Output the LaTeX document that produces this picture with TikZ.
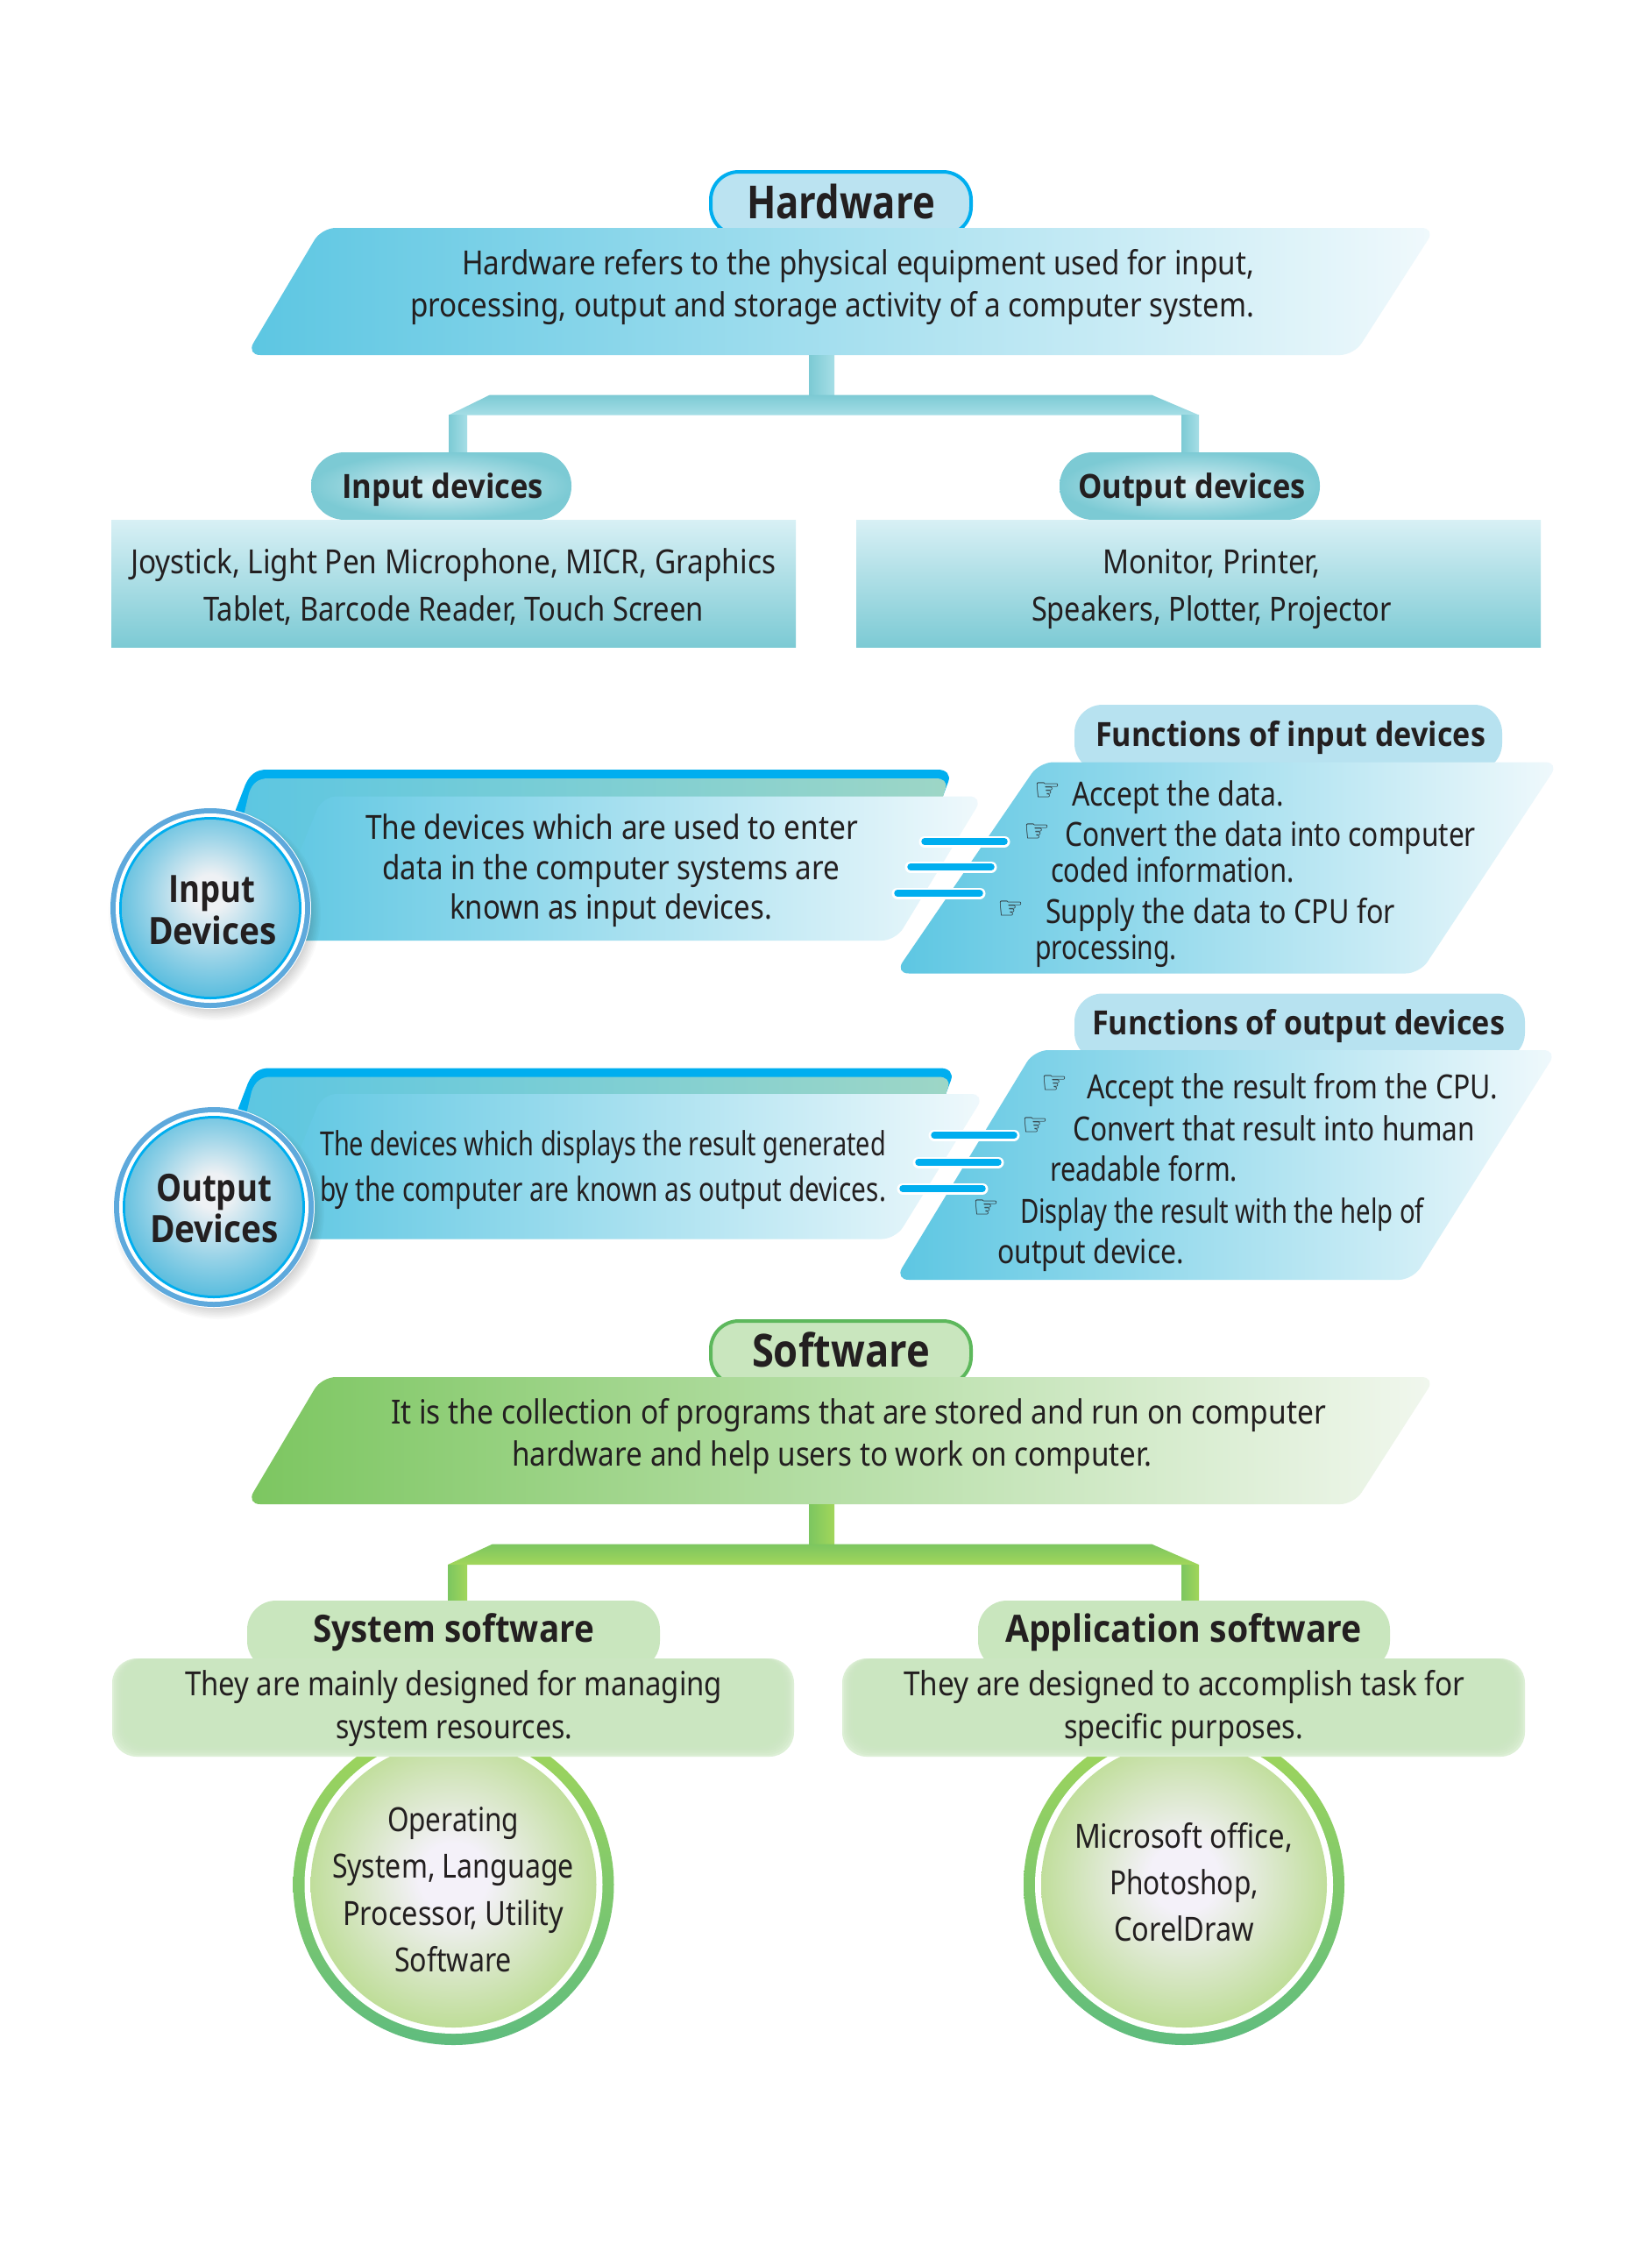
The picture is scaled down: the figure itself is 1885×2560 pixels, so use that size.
\documentclass[tikz,border=0pt]{standalone}
\usepackage{fontspec}
\usepackage{graphicx}
\setmainfont{Noto Sans}
\newfontfamily\handfont{DejaVu Sans}
\newfontfamily\headfont{Open Sans}
\definecolor{ink}{HTML}{231F20}
\definecolor{hblue}{HTML}{00AEEF}
\definecolor{paraL}{HTML}{5CC6E2}
\definecolor{paraR}{HTML}{F0F9FC}
\definecolor{gparaL}{HTML}{7CC660}
\definecolor{gparaR}{HTML}{F1F7EE}
\definecolor{tealD}{HTML}{7CCAD4}
\definecolor{tealM}{HTML}{A6DEE6}
\definecolor{tealL}{HTML}{D8F0F5}
\definecolor{tealG}{HTML}{9DD6C6}
\definecolor{pillH}{HTML}{BBE3F1}
\definecolor{pillS}{HTML}{C9E6BE}
\definecolor{gborder}{HTML}{5DB85C}
\definecolor{boxG}{HTML}{CBE6C1}
\definecolor{boxGe}{HTML}{DCEFD5}
\definecolor{fn}{HTML}{B7E2F0}
\definecolor{ringb}{HTML}{5EA9DC}
\definecolor{orbC}{HTML}{EEF1F4}
\definecolor{orbE}{HTML}{4CB8DC}
\definecolor{grnT}{HTML}{A2D65A}
\definecolor{grnB}{HTML}{5FBC7E}
\definecolor{sphE}{HTML}{B3D983}
\definecolor{sphC}{HTML}{F4F1F9}
\pgfdeclareradialshading{blueorb}{\pgfpoint{0bp}{5bp}}{color(0bp)=(orbC); color(5bp)=(orbC); color(18bp)=(orbE!55!orbC); color(27bp)=(orbE!90!orbC); color(35bp)=(orbE); color(50bp)=(orbE)}
\pgfdeclareradialshading{greenorbsh}{\pgfpoint{0bp}{1.5bp}}{color(0bp)=(sphC); color(6bp)=(sphC); color(18bp)=(sphE!50!sphC); color(27bp)=(sphE!88!sphC); color(35bp)=(sphE); color(50bp)=(sphE)}
\tikzset{
  linetext/.style={anchor=base west,inner sep=0pt,outer sep=0pt,text=ink},
  body/.style={linetext,font=\fontsize{38}{46}\selectfont},
  head/.style={linetext,font=\headfont\fontsize{38}{46}\selectfont\bfseries},
  headb/.style={linetext,font=\headfont\fontsize{43}{50}\selectfont\bfseries},
  title/.style={linetext,font=\headfont\fontsize{52}{60}\selectfont\bfseries},
  handnode/.style={linetext,font=\handfont\fontsize{36}{40}\selectfont},
  shapeR/.style={rounded corners=16pt},
  hpara/.style={shapeR,left color=paraL,right color=paraR},
  gpara/.style={shapeR,left color=gparaL,right color=gparaR},
  speedw/.style={white,line width=13pt,line cap=round},
  speedb/.style={hblue,line width=7.5pt,line cap=round},
}
\newcommand{\fl}[6]{\node[#5] (#1) at (#2,#3) {\resizebox{#4pt}{\height}{#6}};}
\newcommand{\hand}[3]{\node[handnode] (#1) at (#2,#3) {\resizebox{30pt}{\height}{☞}};}
\newcommand{\speed}[4]{\coordinate (#1a) at (#2+4,#4);\coordinate (#1b) at (#3-4,#4);
  \draw[speedw] (#1a) -- (#1b);\draw[speedb] (#1a) -- (#1b);}
\newcommand{\orb}[3]{%
  \foreach \s in {0,...,8}{\fill[black,opacity=.02] (#1+5,#2+7) circle ({#3+7-\s*1.6});}
  \fill[white] (#1,#2) circle (#3+1);
  \fill[ringb] (#1,#2) circle (#3);
  \fill[white] (#1,#2) circle (#3-6);
  \fill[hblue] (#1,#2) circle (#3-10);
  \shade[shading=blueorb] (#1,#2) circle (#3-13);}
\newcommand{\greenball}[2]{%
  \shade[top color=grnT,bottom color=grnB] (#1,#2) circle (183);
  \fill[white] (#1,#2) circle (170);
  \shade[shading=greenorbsh] (#1,#2) circle (163);}
\newcommand{\softbox}[2]{%
  \fill[boxGe,rounded corners=28pt] (#1,1892) rectangle (#2,2004);
  \foreach \i in {1,...,6}{\fill[boxG,opacity=.35,rounded corners=28pt] (#1+\i*2,1892) rectangle (#2-\i*2,2004-\i*2);}}
\newcommand{\banner}[2]{%
  % #1 top y of the strip, #2 horizontal shift
  \begin{scope}[shift={(#2,#1-878)}]
  \fill[hblue] (255,960) -- (280,895) .. controls (285,884) and (292,878) .. (304,878)
     -- (1070,878) .. controls (1080,878) and (1085,884) .. (1082,892) -- (1076,908) -- (300,960) -- cycle;
  \shade[left color=paraL,right color=tealG] (262,1000) -- (284,905) .. controls (288,893) and (295,888) .. (306,888)
     -- (1068,888) .. controls (1076,888) and (1081,892) .. (1079,899) -- (1075,912) -- (300,1000) -- cycle;
  \end{scope}}
\begin{document}
\begin{tikzpicture}[x=1pt,y=-1pt]
\useasboundingbox[fill=white] (0,0) rectangle (1885,2560);

% ---------- Hardware
\fill[pillH,draw=hblue,line width=4pt,rounded corners=32pt] (811,196) rectangle (1108,268);
\shade[hpara] (281,405) -- (367,260) -- (1638,260) -- (1545,405) -- cycle;
\fl{hwt}{852}{249}{215}{title}{Hardware}
\fl{hw1}{527}{313.5}{904}{body}{Hardware refers to the physical equipment used for input,}
\fl{hw2}{468}{361}{963}{body}{processing, output and storage activity of a computer system.}
\shade[left color=tealD,right color=tealM] (923,405) rectangle (952,461);
\shade[top color=tealD,bottom color=tealM] (512,473.5) -- (559,450.5) -- (1314,450.5) -- (1368,473.5) -- cycle;
\shade[left color=tealD,right color=tealM] (512,473.5) rectangle (533,516);
\shade[left color=tealD,right color=tealM] (1348,473.5) rectangle (1368,516);
\shade[inner color=tealL,outer color=tealD,rounded corners=38pt] (355,516) rectangle (652,593);
\shade[inner color=tealL,outer color=tealD,rounded corners=38pt] (1209,516) rectangle (1506,593);
\fl{ipl}{390}{568}{230}{head}{Input devices}
\fl{opl}{1230}{568}{260}{head}{Output devices}
\shade[top color=tealL,bottom color=tealD] (127,593) rectangle (908,738);
\shade[top color=tealL,bottom color=tealD] (977,593) rectangle (1758,738);
\fl{ip1}{149}{654}{736}{body}{Joystick, Light Pen Microphone, MICR, Graphics}
\fl{ip2}{232}{708}{571}{body}{Tablet, Barcode Reader, Touch Screen}
\fl{op1}{1258}{654}{248}{body}{Monitor, Printer,}
\fl{op2}{1177}{708}{411}{body}{Speakers, Plotter, Projector}

% ---------- Functions of input devices
\fill[fn,rounded corners=32pt] (1226,804) rectangle (1714,880);
\shade[hpara] (1021,1110.5) -- (1186,869.5) -- (1779,869.5) -- (1620,1110.5) -- cycle;
\fl{fit}{1250}{851}{445}{head}{Functions of input devices}
\hand{fih1}{1180}{913}
\fl{fi1}{1223}{919}{242}{body}{Accept the data.}
\hand{fih2}{1168}{960}
\fl{fi2}{1215}{965}{469}{body}{Convert the data into computer}
\fl{fi3}{1199}{1006}{278}{body}{coded information.}
\hand{fih3}{1138}{1048}
\fl{fi4}{1193}{1053}{399}{body}{Supply the data to CPU for}
\fl{fi5}{1181}{1094}{162}{body}{processing.}

% ---------- Input banner
\banner{878}{0}
\shade[hpara] (300,1073) -- (368,908.5) -- (1122,908.5) -- (1022,1073) -- cycle;
\fl{ib1}{417}{957}{562}{body}{The devices which are used to enter}
\fl{ib2}{436}{1003}{522}{body}{data in the computer systems are}
\fl{ib3}{513}{1048.5}{368}{body}{known as input devices.}
\orb{240}{1036}{114}
\fl{ic1}{192}{1029}{99}{headb}{Input}
\fl{ic2}{169}{1077.5}{147}{headb}{Devices}
\speed{s1}{1051}{1150}{960}
\speed{s2}{1035}{1135}{989}
\speed{s3}{1020}{1122}{1019}

% ---------- Functions of output devices
\fill[fn,rounded corners=32pt] (1226,1133.5) rectangle (1740,1210);
\shade[hpara] (1021,1460) -- (1180,1198) -- (1777,1198) -- (1612,1460) -- cycle;
\fl{fot}{1246}{1180}{471}{head}{Functions of output devices}
\hand{foh1}{1188}{1247}
\fl{fo1}{1240}{1253}{469}{body}{Accept the result from the CPU.}
\hand{foh2}{1166}{1295}
\fl{fo2}{1224}{1301}{459}{body}{Convert that result into human}
\fl{fo3}{1198}{1347}{214}{body}{readable form.}
\hand{foh3}{1110}{1389}
\fl{fo4}{1164}{1395}{461}{body}{Display the result with the help of}
\fl{fo5}{1138}{1441}{213}{body}{output device.}

% ---------- Output banner
\banner{1218.5}{3}
\shade[hpara] (300,1413.5) -- (368,1248) -- (1124,1248) -- (1022,1413.5) -- cycle;
\fl{ob1}{365}{1318}{646}{body}{The devices which displays the result generated}
\fl{ob2}{365}{1370}{646}{body}{by the computer are known as output devices.}
\orb{244}{1377}{114}
\fl{oc1}{178}{1370}{132}{headb}{Output}
\fl{oc2}{171}{1417}{147}{headb}{Devices}
\speed{s4}{1062}{1161}{1295}
\speed{s5}{1044}{1143}{1326}
\speed{s6}{1026}{1125}{1356}

% ---------- Software
\fill[pillS,draw=gborder,line width=4pt,rounded corners=32pt] (811,1507) rectangle (1108,1580);
\shade[gpara] (281,1716) -- (367,1571) -- (1638,1571) -- (1545,1716) -- cycle;
\fl{swt}{858}{1559}{203}{title}{Software}
\fl{sw1}{446}{1624.5}{1067}{body}{It is the collection of programs that are stored and run on computer}
\fl{sw2}{584}{1672}{730}{body}{hardware and help users to work on computer.}
\shade[left color=gparaL,right color=grnT] (923,1716) rectangle (952,1772);
\shade[top color=gparaL,bottom color=grnT] (511,1785) -- (562,1761.5) -- (1314,1761.5) -- (1368,1785) -- cycle;
\shade[left color=gparaL,right color=grnT] (511,1785) rectangle (533,1827);
\shade[left color=gparaL,right color=grnT] (1348,1785) rectangle (1368,1827);
\greenball{517.5}{2150}
\greenball{1351}{2150}
\fill[pillS,rounded corners=33pt] (282,1826) rectangle (753,1905);
\fill[pillS,rounded corners=33pt] (1116,1826) rectangle (1586,1905);
\softbox{128}{906}
\softbox{961}{1740}
\fl{ssl}{357}{1873}{321}{headb}{System software}
\fl{asl}{1147}{1873}{407}{headb}{Application software}
\fl{ss1}{211}{1934}{613}{body}{They are mainly designed for managing}
\fl{ss2}{383}{1983}{270}{body}{system resources.}
\fl{as1}{1031}{1934}{640}{body}{They are designed to accomplish task for}
\fl{as2}{1214}{1983}{273}{body}{specific purposes.}
\fl{so1}{442}{2089}{150}{body}{Operating}
\fl{so2}{379}{2142}{276}{body}{System, Language}
\fl{so3}{391}{2196}{252}{body}{Processor, Utility}
\fl{so4}{450}{2249}{134}{body}{Software}
\fl{ao1}{1226}{2108}{249}{body}{Microsoft office,}
\fl{ao2}{1266}{2161}{170}{body}{Photoshop,}
\fl{ao3}{1271}{2214}{160}{body}{CorelDraw}
\end{tikzpicture}
\end{document}
